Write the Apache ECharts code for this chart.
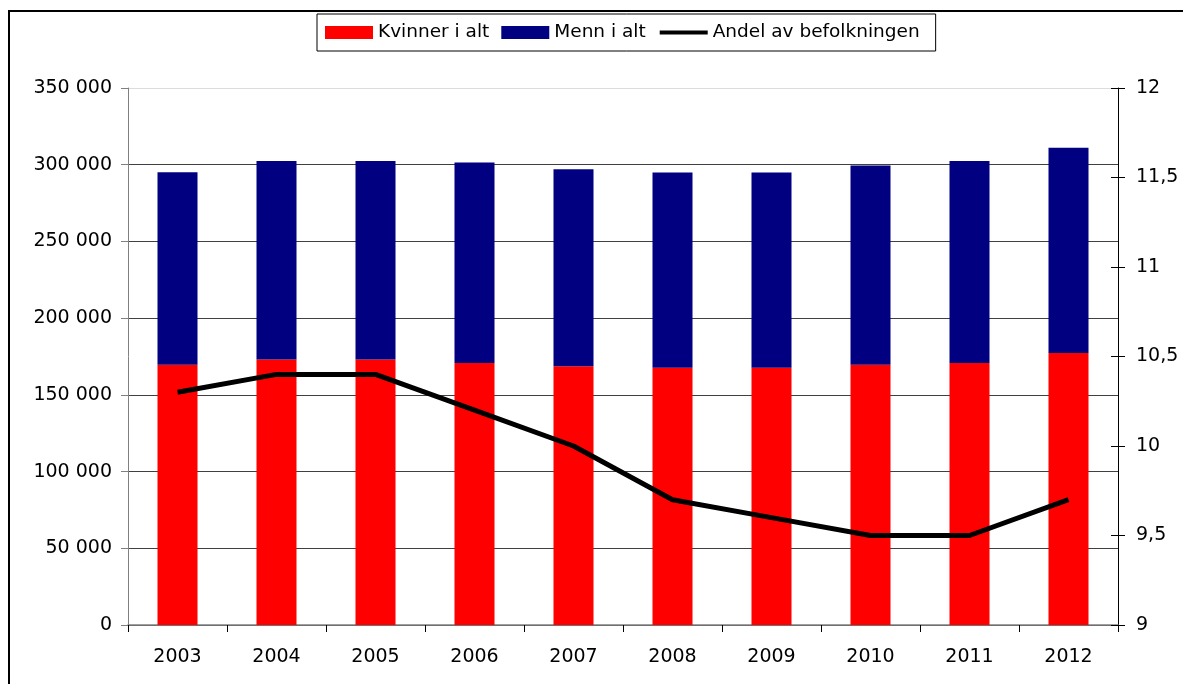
<!DOCTYPE html>
<html>
<head>
<meta charset="utf-8">
<script src="https://cdn.jsdelivr.net/npm/echarts@6/dist/echarts.min.js"></script>
<style>
html,body{margin:0;padding:0;background:#fff;}
#chart{width:1183px;height:684px;}
</style>
</head>
<body>
<div id="chart"></div>
<script>
const years = ['2003','2004','2005','2006','2007','2008','2009','2010','2011','2012'];
const kvinner = [169700, 173000, 173000, 170800, 168600, 167600, 167600, 169700, 170800, 177300];
const menn = [125400, 129500, 129500, 130600, 128400, 127400, 127400, 129800, 131700, 133700];
const andel = [10.3, 10.4, 10.4, 10.2, 10.0, 9.7, 9.6, 9.5, 9.5, 9.7];
const seriesNames = ['Kvinner i alt', 'Menn i alt', 'Andel av befolkningen'];

const font = '"DejaVu Sans", Verdana, sans-serif';
const chart = echarts.init(document.getElementById('chart'), null, {renderer: 'canvas'});
chart.setOption({
  animation: false,
  backgroundColor: '#fff',
  textStyle: {fontFamily: font, color: '#000'},
  graphic: [{
    type: 'rect', z: -1, silent: true,
    shape: {x: 9, y: 11, width: 1400, height: 900},
    style: {fill: 'none', stroke: '#000', lineWidth: 2}
  }],
  legend: {
    left: 317, top: 14,
    padding: [9, 16, 9, 8],
    borderColor: '#000', borderWidth: 1,
    itemWidth: 48, itemHeight: 13, itemGap: 12,
    textStyle: {fontFamily: font, fontSize: 18.5, color: '#000'},
    data: [
      {name: seriesNames[0], icon: 'rect'},
      {name: seriesNames[1], icon: 'rect'},
      {name: seriesNames[2], itemStyle: {opacity: 0, borderWidth: 0}, lineStyle: {width: 4, color: '#000'}}
    ]
  },
  grid: {left: 128, right: 65, top: 88, bottom: 59, containLabel: false},
  xAxis: {
    type: 'category', data: years, boundaryGap: true,
    axisLine: {lineStyle: {color: '#808080', width: 1.5}},
    axisTick: {show: true, length: 7, alignWithLabel: false, lineStyle: {color: '#000'}},
    axisLabel: {color: '#000', fontSize: 19, fontFamily: font, margin: 23}
  },
  yAxis: [{
    type: 'value', min: 0, max: 350000, interval: 50000, position: 'left',
    axisLine: {show: true, lineStyle: {color: '#808080'}},
    axisTick: {show: true, length: 7, lineStyle: {color: '#808080'}},
    splitLine: {show: true, lineStyle: {color: ['#404040','#404040','#404040','#404040','#404040','#404040','#404040','#dcdcdc'], width: 1}},
    axisLabel: {color: '#000', fontSize: 19, fontFamily: font, margin: 16,
      formatter: v => v === 0 ? '0' : String(v).replace(/\B(?=(\d{3})+(?!\d))/g, ' ')}
  }, {
    type: 'value', min: 9, max: 12, interval: 0.5, position: 'right',
    axisLine: {show: true, lineStyle: {color: '#000'}},
    axisTick: {show: true, length: 7, lineStyle: {color: '#000'}},
    splitLine: {show: false},
    axisLabel: {color: '#000', fontSize: 19, fontFamily: font, margin: 18,
      formatter: v => String(v).replace('.', ',')}
  }, {
    type: 'value', min: 9, max: 12, interval: 0.5, position: 'right',
    axisLine: {show: false},
    axisTick: {show: true, inside: true, length: 7, lineStyle: {color: '#000'}},
    splitLine: {show: false},
    axisLabel: {show: false}
  }],
  series: [{
    name: seriesNames[0], type: 'bar', stack: 'total', barWidth: 40,
    itemStyle: {color: '#FF0000'}, data: kvinner
  }, {
    name: seriesNames[1], type: 'bar', stack: 'total', barWidth: 40,
    itemStyle: {color: '#000080'}, data: menn
  }, {
    name: seriesNames[2], type: 'line', yAxisIndex: 1, symbol: 'none', z: 5,
    lineStyle: {color: '#000', width: 5}, itemStyle: {color: '#000'}, data: andel
  }]
});
</script>
</body>
</html>
